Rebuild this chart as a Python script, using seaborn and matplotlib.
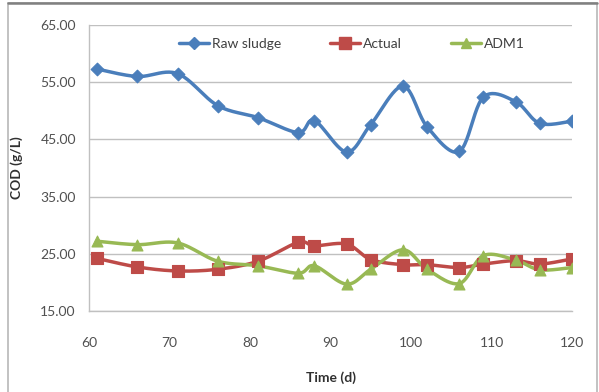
import numpy as np
import pandas as pd
import matplotlib
matplotlib.use("Agg")
import matplotlib.pyplot as plt
from matplotlib.lines import Line2D
from matplotlib.patches import Rectangle
import seaborn as sns

# Sampling days and COD measurements (g/L)
days = [61, 66, 71, 76, 81, 86, 88, 92, 95, 99, 102, 106, 109, 113, 116, 120]
raw_sludge = [57.3, 56.0, 56.5, 50.9, 48.8, 46.2, 48.3, 42.8, 47.6, 54.3, 47.2, 42.9, 52.4, 51.6, 47.8, 48.2]
actual = [24.2, 22.7, 22.0, 22.3, 23.7, 27.0, 26.4, 26.7, 24.0, 23.1, 23.1, 22.6, 23.2, 23.8, 23.2, 24.1]
adm1 = [27.2, 26.6, 26.9, 23.7, 22.9, 21.6, 22.9, 19.7, 22.3, 25.7, 22.3, 19.8, 24.7, 23.9, 22.2, 22.6]

series_names = ["Raw sludge", "Actual", "ADM1"]
series_values = [raw_sludge, actual, adm1]
colors = ["#4A7EBB", "#BE4B48", "#98B954"]
markers = ["D", "s", "^"]
marker_sizes = [42, 64, 62]

x_ticks = [60, 70, 80, 90, 100, 110, 120]
y_ticks = [15, 25, 35, 45, 55, 65]


def smooth_path(xs, ys, steps=24):
    """Cubic Bezier curve through the points (Catmull-Rom style smoothing)."""
    p = np.column_stack([xs, ys]).astype(float)
    n = len(p)
    out = [p[0]]
    t = np.linspace(0, 1, steps + 1)[1:, None]
    for i in range(n - 1):
        p0 = p[max(i - 1, 0)]
        p1 = p[i]
        p2 = p[i + 1]
        p3 = p[min(i + 2, n - 1)]
        c1 = p1 + (p2 - p0) / 6.0
        c2 = p2 - (p3 - p1) / 6.0
        seg = ((1 - t) ** 3) * p1 + 3 * ((1 - t) ** 2) * t * c1 + 3 * (1 - t) * t ** 2 * c2 + t ** 3 * p2
        out.extend(seg)
    out = np.array(out)
    return out[:, 0], out[:, 1]


sns.set_theme(style="white")
plt.rcParams["font.family"] = ["Lato", "DejaVu Sans"]

fig = plt.figure(figsize=(5.99, 3.92), dpi=100)
ax = fig.add_axes([89 / 599, 1 - 311 / 392, 483 / 599, 286 / 392])

grid_color = "#C0C0C0"
for y in y_ticks:
    ax.axhline(y, color=grid_color, lw=1.0, zorder=0)

for name, vals, col, mk, ms in zip(series_names, series_values, colors, markers, marker_sizes):
    sx, sy = smooth_path(days, vals)
    curve = pd.DataFrame({"day": sx, "cod": sy})
    sns.lineplot(data=curve, x="day", y="cod", sort=False, estimator=None,
                 color=col, lw=2.5, ax=ax, zorder=2)
    pts = pd.DataFrame({"day": days, "cod": vals})
    sns.scatterplot(data=pts, x="day", y="cod", marker=mk, s=ms, color=col,
                    edgecolor=col, linewidth=0.8, ax=ax, zorder=3)

ax.set_xlim(60, 120)
ax.set_ylim(15, 65)
ax.set_xticks(x_ticks)
ax.set_yticks(y_ticks)
ax.set_yticklabels([f"{v:.2f}" for v in y_ticks])
ax.tick_params(axis="both", length=0, labelsize=10, colors="#505050")
ax.tick_params(axis="y", pad=9.5)
ax.tick_params(axis="x", pad=18.5)

for side in ["top", "right"]:
    ax.spines[side].set_visible(False)
ax.spines["left"].set_color(grid_color)
ax.spines["bottom"].set_color(grid_color)
ax.spines["left"].set_linewidth(1.0)
ax.spines["bottom"].set_linewidth(1.0)

ax.set_xlabel("Time (d)", fontsize=10, fontweight="bold", color="#303030")
ax.set_ylabel("COD (g/L)", fontsize=10, fontweight="bold", color="#303030")
ax.xaxis.set_label_coords(0.5, -0.211)
ax.yaxis.set_label_coords(-0.136, 0.5)

handles = [Line2D([0], [0], color=c, lw=2.5, marker=m, markersize=s ** 0.5,
                  markeredgecolor=c) for c, m, s in zip(colors, markers, marker_sizes)]
ax.legend(handles, series_names, loc="center left", bbox_to_anchor=(0.186, 0.935),
          ncol=3, frameon=False, fontsize=10, handlelength=2.15, handletextpad=0.25,
          columnspacing=3.5, borderpad=0, borderaxespad=0, labelcolor="#404040")

# chart border
fig.patches.append(Rectangle((8 / 599, -0.05), 589 / 599, 1.05 - 2.5 / 392,
                             transform=fig.transFigure, fill=False,
                             edgecolor="#B8B8B8", lw=1.2))
fig.lines.append(Line2D([8 / 599, 597 / 599], [1 - 2.5 / 392] * 2,
                        transform=fig.transFigure, color="#808080", lw=1.8))

fig.savefig("out.png", dpi=100)
